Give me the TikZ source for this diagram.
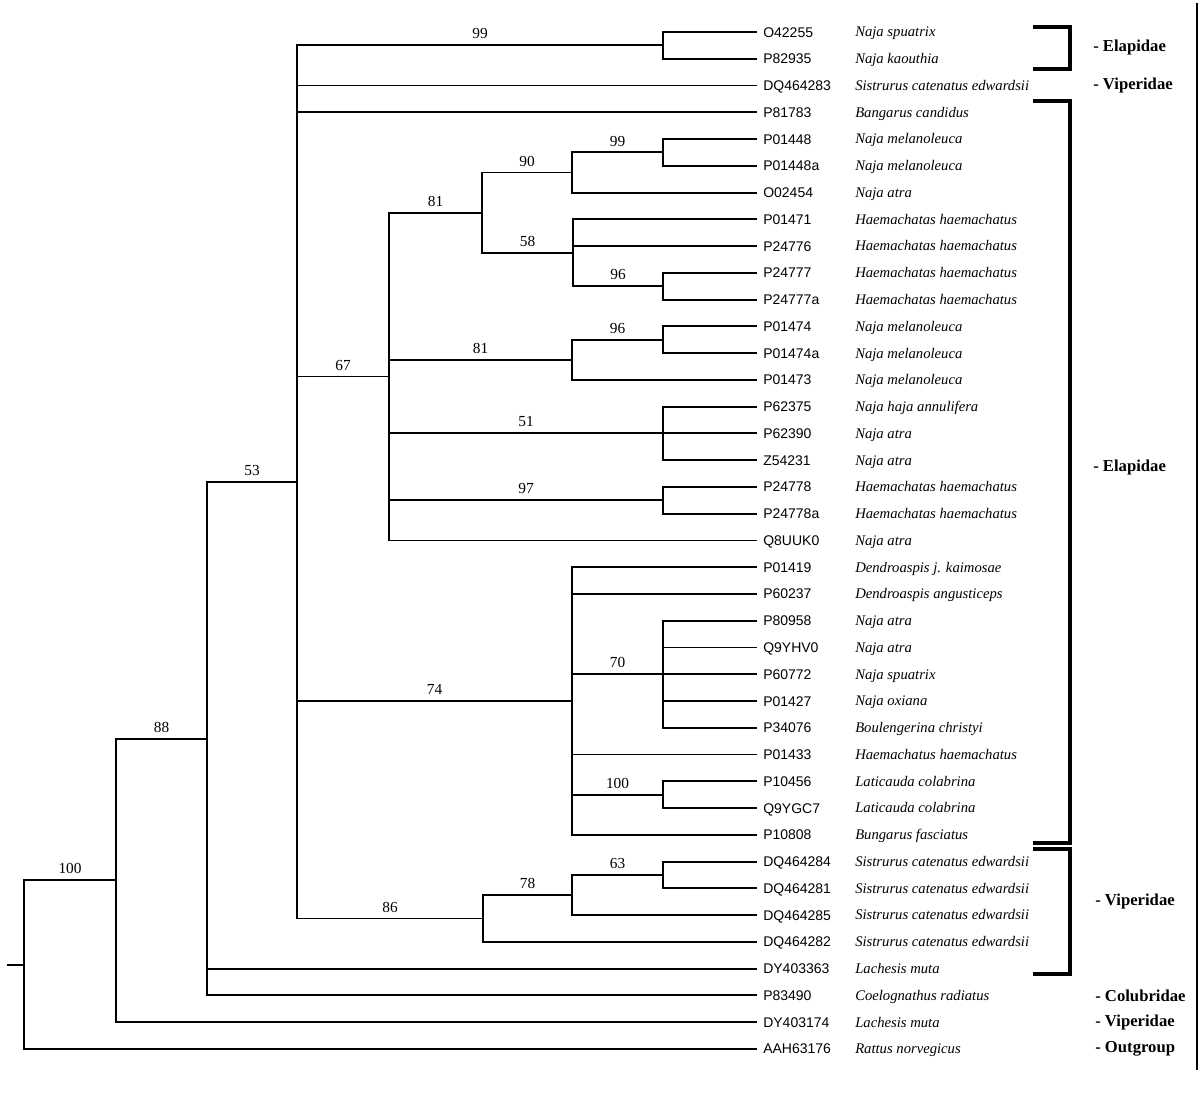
\documentclass[tikz,border=0pt]{standalone}
\usepackage{fontspec}
\setmainfont{Liberation Serif}
\setsansfont{Liberation Sans}
\usepackage{tikz}

\begin{document}
\begin{tikzpicture}[
    x=0.75pt, y=-20.07pt,
    branch/.style={line width=1.4pt},
    bs/.style={
        pos=0.75,
        above=3pt,
        inner sep=1pt,
        font=\fontsize{11.5}{13}\selectfont
    },
    accid/.style={
        anchor=west,
        inner xsep=4.5pt,
        inner ysep=0pt,
        text height=7.5pt,
        text depth=0pt,
        font=\sffamily\fontsize{10.5}{12}\selectfont
    },
    species/.style={
        anchor=west,
        inner sep=0pt,
        text height=7.3pt,
        text depth=0pt,
        font=\itshape\fontsize{11}{13}\selectfont
    },
    family/.style={
        anchor=west,
        inner sep=0pt,
        font=\bfseries\fontsize{12.5}{15}\selectfont
    },
    bracket/.style={line width=3pt}
]

\useasboundingbox (0,-0.196) rectangle (1200,40.91);

% internal nodes, x in px, y in leaf rows
\coordinate (stub)  at (7,35.85);
\coordinate (root)  at (24,35.85);
\coordinate (n100)  at (116,32.703);
\coordinate (n88)   at (207,27.406);
\coordinate (n53)   at (297,17.8125);
\coordinate (n99a)  at (663,1.5);
\coordinate (n67)   at (389,13.875);
\coordinate (n81a)  at (482,7.75);
\coordinate (n90)   at (572,6.25);
\coordinate (n99b)  at (663,5.5);
\coordinate (n58)   at (573,9.25);
\coordinate (n96a)  at (663,10.5);
\coordinate (n81b)  at (572,13.25);
\coordinate (n96b)  at (663,12.5);
\coordinate (n51)   at (663,16);
\coordinate (n97)   at (663,18.5);
\coordinate (n74)   at (572,26);
\coordinate (n70)   at (663,25);
\coordinate (n100b) at (663,29.5);
\coordinate (n86)   at (483,34.125);
\coordinate (n78)   at (572,33.25);
\coordinate (n63)   at (663,32.5);

% leaves
\foreach \i/\accname/\spname/\pnode in {
    1/O42255/Naja spuatrix/n99a,
    2/P82935/Naja kaouthia/n99a,
    3/DQ464283/Sistrurus catenatus edwardsii/n53,
    4/P81783/Bangarus candidus/n53,
    5/P01448/Naja melanoleuca/n99b,
    6/P01448a/Naja melanoleuca/n99b,
    7/O02454/Naja atra/n90,
    8/P01471/Haemachatas haemachatus/n58,
    9/P24776/Haemachatas haemachatus/n58,
    10/P24777/Haemachatas haemachatus/n96a,
    11/P24777a/Haemachatas haemachatus/n96a,
    12/P01474/Naja melanoleuca/n96b,
    13/P01474a/Naja melanoleuca/n96b,
    14/P01473/Naja melanoleuca/n81b,
    15/P62375/Naja haja annulifera/n51,
    16/P62390/Naja atra/n51,
    17/Z54231/Naja atra/n51,
    18/P24778/Haemachatas haemachatus/n97,
    19/P24778a/Haemachatas haemachatus/n97,
    20/Q8UUK0/Naja atra/n67,
    21/P01419/Dendroaspis j. kaimosae/n74,
    22/P60237/Dendroaspis angusticeps/n74,
    23/P80958/Naja atra/n70,
    24/Q9YHV0/Naja atra/n70,
    25/P60772/Naja spuatrix/n70,
    26/P01427/Naja oxiana/n70,
    27/P34076/Boulengerina christyi/n70,
    28/P01433/Haemachatus haemachatus/n74,
    29/P10456/Laticauda colabrina/n100b,
    30/Q9YGC7/Laticauda colabrina/n100b,
    31/P10808/Bungarus fasciatus/n74,
    32/DQ464284/Sistrurus catenatus edwardsii/n63,
    33/DQ464281/Sistrurus catenatus edwardsii/n63,
    34/DQ464285/Sistrurus catenatus edwardsii/n78,
    35/DQ464282/Sistrurus catenatus edwardsii/n86,
    36/DY403363/Lachesis muta/n88,
    37/P83490/Coelognathus radiatus/n88,
    38/DY403174/Lachesis muta/n100,
    39/AAH63176/Rattus norvegicus/root}
{
    \node[accid] (acc\i) at (757,\i) {\accname};
    \node[species] (sp\i) at (855,\i) {\spname};
    \draw[branch] (\pnode) |- (acc\i.west);
}

% inner branches with bootstrap values
\foreach \a/\b/\v in {root/n100/100, n100/n88/88, n88/n53/53,
    n53/n99a/99, n53/n67/67, n53/n74/74, n53/n86/86,
    n67/n81a/81, n67/n81b/81, n67/n51/51, n67/n97/97,
    n81a/n90/90, n81a/n58/58, n90/n99b/99, n58/n96a/96,
    n81b/n96b/96, n74/n70/70, n74/n100b/100, n86/n78/78, n78/n63/63}
    \draw[branch] (\a) |- node[bs] {\v} (\b);

\draw[branch] (stub) -- (root);

% family brackets
\draw[bracket] (1033,0.813) -| (1070,2.383) -- (1033,2.383);
\draw[bracket] (1033,3.578) -| (1070,31.31) -- (1033,31.31);
\draw[bracket] (1033,31.53) -| (1070,36.20) -- (1033,36.20);

\node[family] (fam1) at (1093,1.56)  {- Elapidae};
\node[family] (fam2) at (1093,3)     {- Viperidae};
\node[family] (fam3) at (1093,17.26) {- Elapidae};
\node[family] (fam4) at (1095,33.51) {- Viperidae};
\node[family] (fam5) at (1095,37)    {- Colubridae};
\node[family] (fam6) at (1095,38)    {- Viperidae};
\node[family] (fam7) at (1095,39)    {- Outgroup};

\draw[line width=1.2pt] (1197,-0.08) -- (1197,39.79);

\end{tikzpicture}
\end{document}
